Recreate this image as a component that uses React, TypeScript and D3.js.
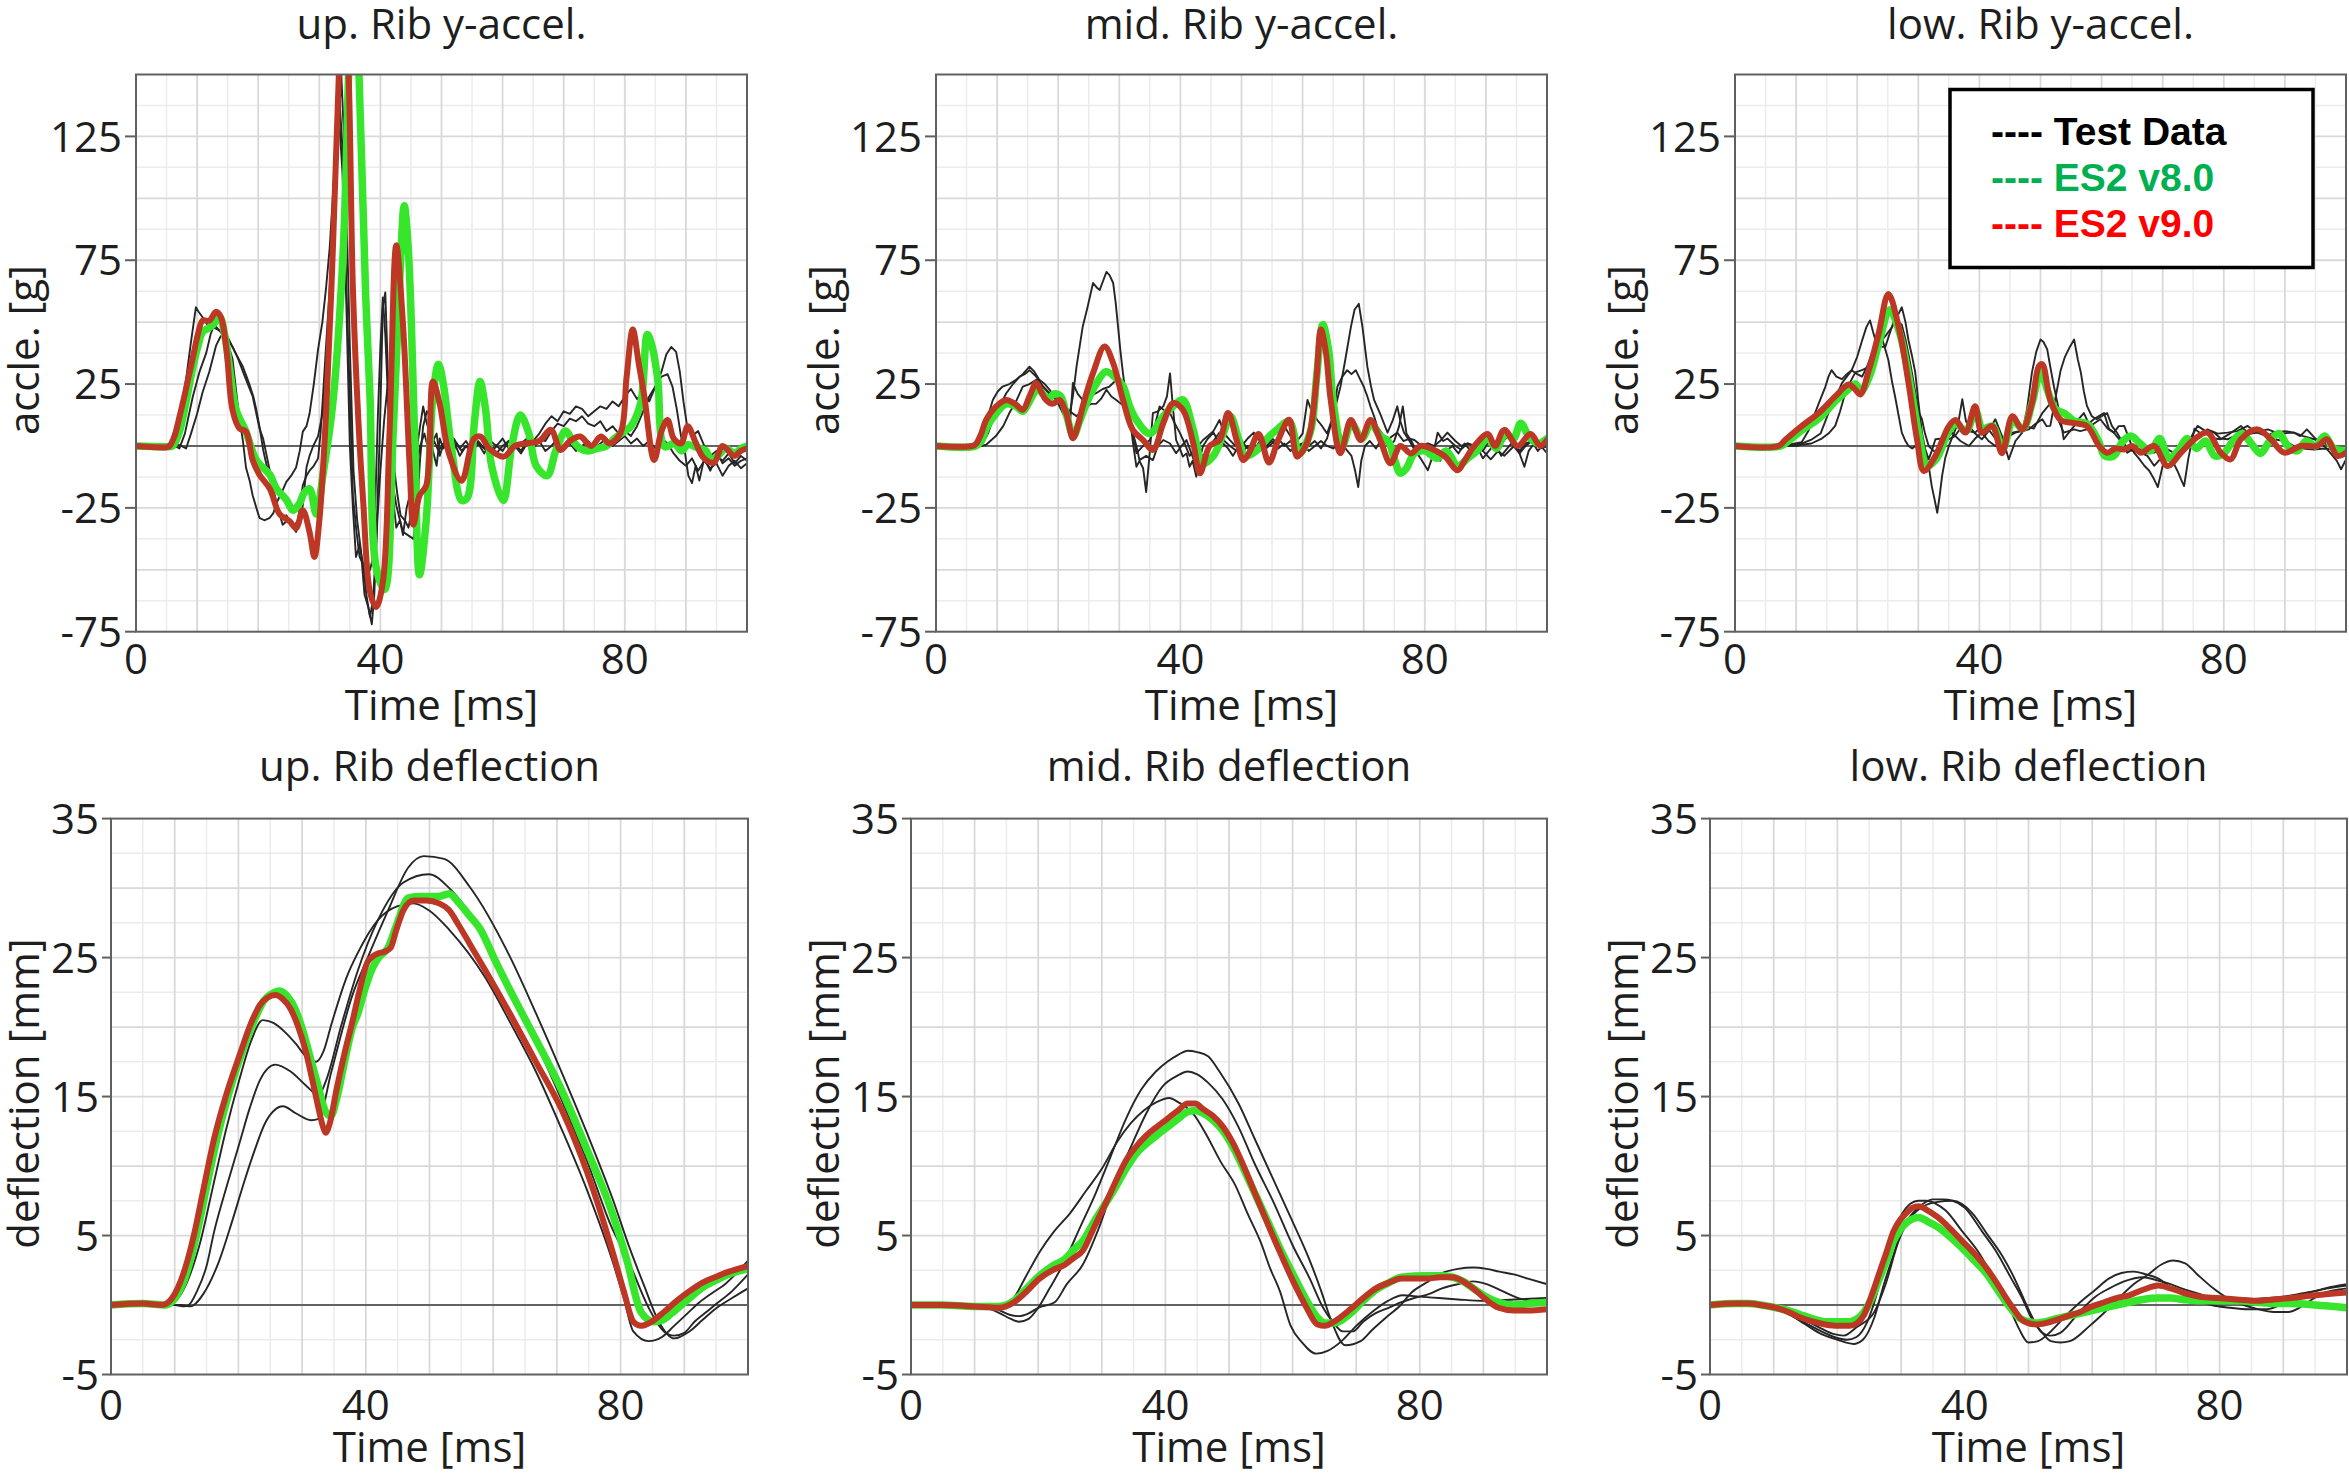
import React from "react";
import * as d3 from "d3";

type Pt = [number, number];

// ---------------- DATA ----------------
const timeTicks = [0, 40, 80];
const accTicks = [125, 75, 25, -25, -75];
const deflTicks = [35, 25, 15, 5, -5];
const legendLabels = ["---- Test Data", "---- ES2 v8.0", "---- ES2 v9.0"];

// up. Rib y-accel.
const upAccV9: Pt[] = [[0,0],[3,-0.5],[5,-0.5],[5.5,0],[6.3,4],[7.1,11.6],[8,21],[8.7,29],[9.5,38],[10.1,44.8],[10.9,50.6],[12,50.6],[13.1,54.2],[13.9,52],[14.8,39],[15.8,14.5],[16.9,7.2],[18,5.8],[19.1,-5.8],[20.2,-11.6],[21.9,-17.3],[23.5,-27.5],[25.1,-30.3],[26.2,-33.2],[27.3,-26],[28.4,-34.7],[29.2,-44.8],[30,-30.3],[31.1,13],[32.2,78],[33.2,150],[34,190],[34.8,150],[35.5,63.6],[36.4,10],[37.2,-23],[38.3,-59],[39.3,-65],[40.4,-55],[41.5,5.8],[42.6,81],[43.7,49],[44.8,-8.7],[45.4,-31.8],[46.4,-20],[47.5,-16],[48.6,26],[49.7,17],[51.2,-2.9],[53.3,-14],[55.3,2.9],[56.4,3.8],[57.8,-1],[60.2,-4.3],[62,0],[64,1.1],[66,2],[67.9,6.5],[69.5,-1.6],[71,2],[72.7,3.8],[74.5,0],[76.1,3.8],[77.5,1],[79.3,5.3],[80.3,28],[81.3,47],[82.3,33],[83.2,20],[84.8,-5.7],[86,6],[87,10.5],[88,3],[89.2,1],[90.3,8],[91.5,2],[92.9,-4.8],[94.6,-6.7],[96,0],[97.9,-4],[99,-2],[100,-1]];
const upAccV8: Pt[] = [[0,0],[5,-0.3],[6,0],[7.1,5.8],[8.2,18],[9.3,31.8],[10.1,40],[10.9,46],[11.8,47.5],[12.6,49],[13.7,52],[14.5,45],[15.3,32],[16.4,14.5],[18,5.8],[19.7,-5.8],[21.9,-11.6],[23,-17.3],[24.6,-21.7],[25.7,-26],[26.8,-23],[27.5,-19],[28.4,-17.3],[29.5,-27.5],[30.6,-11.6],[32.2,17],[33.9,78],[34.8,150],[35.6,200],[36.5,150],[37.6,60],[38.3,20],[39.3,-49],[40.7,-58],[42.1,5.8],[43.2,69],[43.9,97],[44.6,78],[45.6,5],[46.4,-52],[47.5,-30],[48.6,20],[49.5,33],[50.3,25],[51.6,-0.3],[53.3,-22],[54.2,-21],[55.4,10],[56.3,26],[57.2,15],[58.2,-8],[60.1,-22],[61.5,0],[62.9,12.5],[64.3,5],[65.5,-8],[67.3,-12],[68.7,-2],[70.3,6],[71.5,2],[72.7,-1],[74,-2],[75.5,-1],[77,0],[78.3,3],[80,6],[81,8],[82.6,17.3],[83.7,45],[84.5,40],[85.4,26.7],[86.5,-0.3],[88.1,1],[89.3,-2],[90.3,0.5],[91.7,-0.5],[93.3,-2],[94,-5.7],[95.2,-4],[96.5,-1],[98,-3],[99,-1],[100,0]];
const upAccTest1: Pt[] = [[0,0],[4,0.5],[5.5,0],[6.5,8],[7.3,15],[8.2,27],[9,42],[9.8,56],[10.3,54],[10.9,52],[11.7,49],[12.6,48],[13.4,47],[14.2,46],[15,42],[15.8,35],[16.4,22],[16.9,11.6],[17.5,2],[18,-8.7],[18.6,-14],[19.1,-20],[19.7,-25],[20.2,-29],[21,-30],[21.9,-29],[22.5,-27],[23,-23],[23.8,-19],[24.6,-14.5],[25.4,-12],[26.2,-8.7],[26.8,-2],[27.3,5.8],[27.9,8],[28.4,13],[29.1,25],[29.8,39],[30.5,50],[31.1,63.6],[31.7,80],[32.2,100],[32.8,125],[33.3,130],[33.8,110],[34.4,60],[35,0],[35.5,-25],[36,-44.8],[36.6,-40],[37.2,-48],[37.7,-60],[38.3,-69],[38.8,-62],[39.3,-40],[39.9,5],[40.4,56],[40.8,62],[41.1,40],[41.5,0],[42,-20],[42.6,-33],[43.2,-30],[43.7,-36],[44.3,-25],[44.8,-20],[45.4,-8],[45.9,-2],[46.5,8],[47,16],[47.5,10],[48.1,5],[48.6,-2],[49.2,-8],[49.7,3],[50.3,-1],[51,2],[51.8,-3],[52.5,1],[53.3,-2],[54,0],[55,-3],[56,2],[57,-1],[58,1],[59,-3],[60,0],[61,2],[62,-1],[63,1],[64,3],[65,2],[66,5],[67,9],[68,12],[69,10],[70,14],[71,13],[72,16],[73,15],[74,12],[75,14],[76,16],[77,15],[78,18],[79,16],[80,20],[81,23],[82,19],[83,21],[84,18],[85,24],[86,30],[86.8,37],[87.6,40],[88.4,38],[89,30],[89.6,18],[90.2,8],[91,4],[92,6],[93,0],[94,-4],[95,-2],[96,-7],[97,-5],[98,-8],[99,-6],[100,-5]];
const upAccTest2: Pt[] = [[0,0],[5,0],[6,0.5],[7.1,-1],[8,5],[9.3,20],[10.4,30],[11.5,37.6],[12.2,45],[12.8,49],[13.5,47],[14.2,45],[15,43],[15.8,40],[16.6,36],[17.5,32],[18.1,28],[18.6,24.6],[19.2,20],[19.7,14.5],[20.2,8],[20.8,-1.4],[21.3,-7],[21.9,-13],[22.5,-18],[23,-23],[23.5,-27],[24,-29],[24.6,-28],[25.1,-30],[25.7,-33],[26.2,-34.7],[26.8,-30],[27.3,-24],[27.9,-8.7],[28.4,-4],[29,0],[29.8,4],[30.6,14],[31.1,28],[31.7,49],[32.2,75],[32.8,107],[33.3,140],[33.8,120],[34.4,66],[35,20],[35.5,-20],[36.1,-35],[36.6,-44.8],[37.2,-48],[37.7,-52],[38.3,-50],[38.8,-45],[39.2,-20],[39.6,13],[40,40],[40.4,60],[40.8,45],[41.5,5],[42,-15],[42.6,-24],[43.2,-30],[43.7,-34.7],[44.5,-36],[45.4,-37.6],[46,-25],[46.5,-5],[47,8],[47.6,14],[48.1,12],[48.6,2],[49.2,5],[49.7,-4],[50.5,2],[51.2,-3],[52,3],[53,-1],[54,2],[55,-2],[56,1],[57,-3],[58,2],[59,0],[60,3],[61,-1],[62,1],[63,-2],[64,2],[65,0],[66,3],[67,2],[68,6],[69,9],[70,8],[71,11],[72,10],[73,12],[74,9],[75,8],[76,10],[77,6],[78,8],[79,5],[80,6],[81,4],[82,8],[83,14],[84,20],[85,24],[86,28],[87,29],[87.8,24],[88.5,15],[89.2,4],[89.8,-2],[90.4,-12],[91,-15],[91.6,-8],[92.2,-14],[93,-5],[94,-10],[95,-4],[96,-6],[97,-3],[98,-7],[99,-4],[100,-6]];
const upAccTest3: Pt[] = [[0,0],[6,0],[7,0.5],[8.2,-1],[9,5],[10,13],[10.9,21.7],[12,30],[13.1,40.5],[13.8,44],[14.5,46],[15.2,43],[15.8,40],[16.6,36],[17.5,30],[18.3,25],[19.1,20],[19.7,13],[20.2,7.2],[20.8,3],[21.3,-2.9],[21.9,-10],[22.4,-18.8],[23.2,-25],[24,-31.8],[24.8,-30],[25.7,-33],[26.5,-30],[27.3,-15.9],[27.9,-12],[28.4,-10],[29.1,-8],[29.8,-5],[30.2,5],[30.6,20],[31.1,40],[31.7,63.6],[32.4,90],[33,120],[33.6,150],[34.3,110],[35,40],[35.6,-10],[36.2,-30],[36.8,-42],[37.4,-60],[38,-65],[38.6,-72],[39,-60],[39.5,-30],[40,-10],[40.6,10],[41.2,25],[41.8,35],[42.3,-10],[42.8,-20],[43.3,-28],[44,-30],[44.6,-33],[45.2,-25],[45.8,-10],[46.5,0],[47.2,5],[48,-3],[48.8,2],[49.5,-2],[50.3,1],[51,-2],[52,2],[53,-4],[54,0],[55,-2],[56,1],[57,-1],[58,-3],[59,0],[60,-2],[61,2],[62,0],[63,-3],[64,1],[65,-1],[66,2],[67,-2],[68,0],[69,3],[70,-1],[71,1],[72,-2],[73,0],[74,2],[75,-1],[76,1],[77,3],[78,0],[79,2],[80,4],[81,1],[82,3],[83,0],[84,2],[85,-1],[86,3],[87,1],[88,-3],[89,-6],[90,-8],[91,-5],[92,-10],[93,-6],[94,-9],[95,-7],[96,-12],[97,-8],[98,-6],[99,-9],[100,-7]];

// mid. Rib y-accel.
const midAccV9: Pt[] = [[0,0],[6,0],[6.6,1],[7.4,5],[8.2,10.5],[9.8,15.9],[11.5,18.6],[13.1,16.7],[14.2,14.6],[15.3,20],[16.4,25.4],[17.2,22],[18,18.6],[19.1,17],[20.2,18.6],[21.3,13.3],[22.4,3.1],[23.2,8],[24,15.9],[25.7,29.4],[27.6,40.2],[29,33.4],[30.6,18.6],[32.2,6.5],[33.9,2.4],[35.5,-1.6],[37.2,9.2],[38.8,17.3],[40.4,14.6],[42.1,1.1],[43.2,-11],[44.8,0],[46.4,2.4],[47.8,13.3],[49.2,2.4],[50.3,-5.7],[51.2,-3],[52.8,4.8],[54.5,-6.7],[56,2.4],[57.8,10.6],[59.1,-4.3],[60.5,0],[61.3,6.5],[62.2,25],[63,47],[63.8,38],[64.6,18.6],[66.2,-2.9],[67.9,10.5],[69.5,2.4],[71.1,10.5],[72.7,2.4],[74.4,-7],[76,0],[77.7,-3],[79.3,0],[81,-1],[83.2,-4],[85.4,-9.8],[86.5,-6],[88.1,0],[90.3,4.8],[91.5,0],[93,6.5],[95.2,0],[97.3,4.8],[98.9,0],[100,2.4]];
const midAccV8: Pt[] = [[0,0],[6.5,0],[7.4,2],[8.4,8],[9.8,13],[11.5,17],[13.1,16],[14.2,14],[15.3,18],[16.6,23],[17.5,21],[18.4,19],[19.3,21],[20.4,20],[21.3,13],[22.5,4],[23.5,10],[24.6,17],[26.2,25],[27.8,30],[29.2,28],[30.6,24.3],[31.7,16],[32.8,10.5],[35,5],[37.2,12],[38.8,16],[40.4,18.6],[42.1,6.5],[43.7,-7],[45.4,-4],[47,5],[48.2,12],[49.5,3],[50.6,-4],[52.4,-2],[54.2,3],[56,7],[57.8,10],[59.5,-3],[61.3,6],[62.3,28],[63.3,49],[64.3,38],[65,18],[66.5,0],[68,9],[69.7,3],[71.2,9],[72.7,4],[74,2],[75,-5],[76,-11],[77,-9],[78.3,-3],[80,-2],[82,-5],[83.5,-2],[85.4,-8],[87,-5],[88.5,-2],[90.3,3],[91.7,-1],[93.2,5],[94.5,3],[95.7,9.2],[97,4],[98.5,1],[100,3]];
const midAccTest1: Pt[] = [[0,0],[6,0],[7,1],[7.7,5.4],[8.5,12],[9.3,18.6],[10.1,22],[10.9,24],[12,25],[13.1,26.7],[14.2,29],[15.3,32],[16.1,30],[16.9,26.7],[17.8,25],[18.6,22.7],[19.4,20],[20.2,18.6],[21,16],[21.9,13.3],[22.4,20],[23,32],[23.5,40],[24,48],[24.8,56],[25.7,65.8],[26.3,64],[26.8,63],[27.4,67],[27.9,70.3],[28.4,69],[29,65.8],[29.4,58],[29.8,48],[30.2,38],[30.6,29.3],[31.1,20],[31.7,12],[32.2,2],[32.8,-8.4],[33.3,-6],[33.9,-9],[34.4,-18.6],[34.9,-5],[35.5,13.3],[36.3,14],[37.2,16],[37.8,20],[38.3,29.3],[38.8,15],[39.3,2.4],[39.9,-1],[40.4,-4.3],[41,-3],[41.5,-8.4],[42,-6],[42.6,-12.4],[43.2,-5],[43.7,0],[44.5,3],[45.4,5.4],[46.2,2],[47,1],[47.8,-1],[48.6,-4],[49.3,-1],[50,0],[51,3],[52,5.4],[53,2],[54.2,0],[55,3],[56,1],[57,8],[58,4],[59.1,2],[60,5],[60.8,18.6],[61.5,14],[62.4,10.5],[63.2,8],[64,5],[65,12],[66.2,24],[67,35],[67.9,48],[68.5,55],[69.2,57.4],[69.8,48],[70.6,32],[71.2,24],[71.7,18.6],[72.7,13],[73.9,5.4],[74.7,10],[75.5,16],[76,10],[76.6,5.4],[77.5,2],[78.3,-1.4],[79.3,-5],[80.5,-9.8],[81.3,-4],[82.1,5.4],[83,2],[83.7,3],[85,0],[85.9,-1.4],[87,1],[88.1,0],[89.5,-2],[90.5,2],[91.4,-1.4],[92.5,1],[93.6,4],[94.5,0],[95.5,-3],[96.3,-8.4],[97,-2],[98,1.4],[99,-1],[100,0]];
const midAccTest2: Pt[] = [[0,0],[6.8,0],[7.5,0.5],[8.5,5],[9.3,10.5],[10.4,16],[11.5,21.3],[12.6,25],[13.7,28],[14.5,29],[15.3,30.6],[16.4,28],[17.5,24],[18.6,21],[19.7,18.6],[20.8,13],[21.9,8],[22.4,25.4],[23.2,21],[24,18.6],[25.1,20],[26.2,21.3],[27.3,23],[28.4,24],[29.5,26.7],[30.3,24],[31.1,18.6],[31.7,12],[32.2,5.4],[32.8,0],[33.3,-5.7],[34.4,-4],[35.5,-5.7],[36.3,0],[37.2,2.4],[38.3,1],[39.3,-2.9],[40.2,0],[41,2.4],[41.8,-3],[42.6,-8.4],[43.5,-4],[44.3,-2.9],[45.4,2],[46.4,5.4],[47.2,2],[48.1,0],[49,-1.6],[50,-3],[51,0],[52,-2],[53,2],[54,-1],[55,1],[56,3],[57,0],[58,2],[59,-1],[60,1],[61,0],[62,2],[63,-1],[64,3],[65,12],[65.7,24],[66.5,28],[67.3,30.6],[68,29],[68.7,30.6],[69.4,27],[70,24],[70.6,20],[71.1,16],[71.7,12],[72.2,8],[73,5],[73.9,2.4],[74.7,4],[75.5,5.4],[76.5,2],[77.5,3],[78.3,2.4],[79.5,0],[80.5,1],[81.5,0],[82.5,2],[83.7,5.4],[85,2],[86,0],[87,1],[88.1,0],[89.5,-2],[90.8,-5.4],[92,-2],[93,-4],[94.6,0],[95.5,-2],[96.5,1],[98,2.4],[99,0],[100,-2.9]];
const midAccTest3: Pt[] = [[0,0],[7.5,0],[8.2,0.5],[9.8,4],[11,8],[12,13.3],[13.1,18],[14.2,24],[15.3,25],[16.4,26.7],[17.5,24],[18.6,21.3],[19.7,19],[20.8,17],[21.9,14],[23,12],[23.8,14],[24.6,16],[25.4,17],[26.2,17],[27,19],[27.9,22.7],[28.7,20],[29.5,18.6],[30.3,17],[31.1,16],[32,8],[32.8,-2.9],[33.9,0],[35,2.4],[35.8,8],[36.6,16],[37.5,14],[38.3,13.3],[39.1,9],[39.9,5.4],[40.7,1],[41.5,-4],[42.6,-1],[43.7,2.4],[44.5,4],[45.4,6],[46.4,10.5],[47.2,5],[48.1,2.4],[49,0],[50,2],[51,-1],[52,1],[53,-2],[54,0],[55,2],[56,-1],[57,1],[58,-2],[59,0],[60,1],[61,-2],[62,0],[63,2],[64,0],[65,-1],[66,1],[67,-1],[68,-4],[68.6,-10],[69.1,-16.6],[69.6,-6],[70.2,0],[71,2],[72,-1],[73,3],[74,0],[75,2],[75.8,8],[76.4,16],[77,5],[77.8,2],[78.6,-2],[79.5,0],[80.5,-4],[81.5,-1],[82.5,-6],[83.5,-2],[84.5,0],[85.5,-3],[86.5,1],[87.5,-2],[88.5,0],[89.5,-5],[90.5,-2],[91.5,1],[92.5,-4],[93.5,-1],[94.5,2],[95.5,-3],[96.5,0],[97.5,2],[98.5,-2],[99.5,1],[100,-1]];

// low. Rib y-accel.
const lowAccV9: Pt[] = [[0,0],[7.1,0],[8.2,2.4],[10.9,8],[13.7,13.3],[16.4,20],[18.6,24.8],[19.6,23],[20.5,20.8],[21.9,30.6],[23.5,45.3],[25.1,61.4],[26.8,48],[28.4,25.4],[29.8,2.4],[30.9,-10.1],[32.8,-4],[35,8],[36.1,10.5],[37.7,5.4],[39.3,16],[40.4,5.4],[42.1,8],[43.7,-2.9],[45.4,12],[47,6.7],[48.6,17.3],[49.7,32],[50.3,33],[51.6,18.6],[53.3,10.5],[55.5,9.2],[57.6,8],[59.6,0],[60.9,-2.7],[62.3,-1],[63.7,-1.4],[65,0],[66.4,-2.7],[68.6,0],[70.8,-8.1],[73,-2.7],[75.2,2.7],[77.3,5.4],[79.5,-2.7],[81.1,-5.4],[82.8,2.7],[85.5,6.7],[87.7,2.7],[89.9,-2.7],[92.6,0],[95.3,0],[96.9,2.7],[98.6,-4],[100,-2.7]];
const lowAccV8: Pt[] = [[0,0],[7.5,0],[8.7,2],[11,6.5],[13.7,11],[16.4,18],[18.6,23],[19.7,25],[20.6,22],[22,28],[23.6,42],[25.3,55],[26.9,46],[28.6,26],[30,6],[31.5,-8],[33,-5],[35,6],[36.2,9],[37.8,6],[39.4,14],[40.5,7],[42.2,8],[43.8,-1],[45.5,10],[47.1,7],[48.7,18],[50,30],[51.2,22],[52.4,15],[54,13],[55.6,10],[57.6,9],[59.5,2],[60.5,-4],[62,-4],[63.5,2],[64.8,4],[66.3,1],[68,-2],[69.5,3],[71,-5],[72.5,-2],[74,3],[75.5,-1],[77,2],[78.5,-4],[80,-3],[81.5,2],[83,5],[84.5,1],[86,-3],[87.5,2],[89,5],[90.5,0],[92,-2],[93.5,2],[95,0],[96.5,4],[98,-1],[100,-2]];
const lowAccTest1: Pt[] = [[0,0],[8,0],[8.7,0.5],[9.8,1],[10.9,1.5],[12,6],[13.1,13.3],[14,19],[14.8,24],[15.3,28],[15.8,30.6],[16.6,28],[17.5,27],[18.3,29],[19.1,30.6],[20,36],[20.8,42.6],[21.5,48],[22.1,50.7],[22.6,46],[23,42.6],[23.5,44],[24,44],[24.6,39],[25.1,34.7],[25.7,26],[26.2,20],[26.8,12],[27.3,5.4],[27.9,2],[28.4,0],[29,-1],[29.5,0],[30.3,-1],[31.1,-2.7],[31.7,-8],[32.2,-16.2],[32.7,-22],[33.1,-27],[33.5,-20],[33.9,-12],[34.4,-5],[35,0],[35.8,5],[36.6,10],[37.2,18.9],[37.8,10],[38.3,8.1],[39.3,5],[40.4,2.7],[41.5,6],[42.6,10.8],[43.7,4],[44.8,-5.4],[45.9,2],[47,5.4],[47.8,15],[48.6,29.7],[49.3,38],[50,43],[50.5,42],[51.1,39],[51.6,32],[52.2,24],[52.8,17],[53.3,10.5],[53.8,2.7],[54.5,5],[55.5,8],[56.3,11],[57.1,13.3],[57.9,9],[58.7,10.8],[59.5,12],[60.4,13.3],[61.2,7],[62,5.4],[62.8,8],[63.7,8.1],[64.5,3],[65.3,-2.7],[66.1,-5],[67,-8],[67.8,-10],[68.5,-13],[69.2,-16.6],[70,-8],[70.8,-2.7],[71.6,-6],[72.4,-10],[73,-13.5],[73.5,-16.2],[74.2,-5],[75.2,7],[76.2,5],[77.3,5.4],[78.4,3],[79.5,2.7],[81,5],[82.8,8.1],[84,5],[85.5,5.4],[87,4],[88.2,5.4],[90,6],[91.5,5.4],[92.5,4],[93.6,6.7],[95,3],[96.4,0],[97.5,-3],[98.5,-6],[99.2,-9.4],[100,-5.4]];
const lowAccTest2: Pt[] = [[0,0],[9,0],[9.8,0.5],[11,1],[12.6,2.7],[14,5],[15.3,13.3],[16.4,19],[17.5,25.4],[18.3,28],[19.1,30.6],[20,29],[20.8,28],[21.6,32],[22.4,37.3],[23.2,40],[24,42.6],[24.8,45],[25.7,48],[26.5,52],[27.3,56],[27.9,50],[28.4,42.6],[29,36],[29.5,29.7],[30,18],[30.6,5.4],[31.1,-1],[31.7,-5.4],[32.2,-2],[32.8,2.7],[33.9,3],[35,2.7],[36,4],[37.2,8.1],[38.2,6],[39.3,5.4],[40.4,8],[41.5,6.7],[42.6,3],[43.7,0],[44.8,4],[45.9,5.4],[47,6],[48.1,6.7],[49.2,9],[50.3,10.8],[51,8],[51.6,8.1],[52.5,20],[53.3,30.6],[54,36],[54.8,40],[55.5,43],[56.1,35],[56.6,29.7],[57.1,22],[57.6,16.2],[58.4,12],[59.2,10.8],[60,12],[60.9,13.3],[61.7,8],[62.5,5.4],[63.3,2],[64,0],[65,-2],[66.4,-2.7],[67.5,-4],[68.6,-8],[69.7,-5],[70.8,-5.4],[72,-4],[73,-2.7],[74.3,2],[75.7,8.1],[77,6],[78.4,5.4],[79.5,3],[80.6,2.7],[81.7,4],[82.8,5.4],[84.5,5],[86,6],[87.2,6.7],[89,5],[91.5,5.4],[93,4],[94.8,2.7],[96.5,1],[98.1,0],[99,-2],[100,-3]];
const lowAccTest3: Pt[] = [[0,0],[10,0],[10.9,0.5],[12.5,1],[14.2,3],[15.3,5],[16.4,8.1],[17.2,14],[18,21],[18.9,26],[19.7,29.7],[20.8,30.6],[21.9,32],[22.7,37],[23.5,41.3],[24.1,40],[24.6,40],[25.4,46],[26.2,52],[26.8,50],[27.3,49],[27.9,43],[28.4,37],[29,29],[29.5,21.6],[30,14],[30.6,10.8],[31.1,5],[31.7,0],[32.5,-2],[33.3,-2.7],[34.4,2],[35.5,5.4],[36.9,2],[38.3,0],[39.3,3],[40.4,5.4],[41.5,2],[42.6,0],[44,3],[45.4,5.4],[46.5,6],[47.5,8.1],[48.9,7],[50.3,13.3],[51.2,16],[52.2,18.9],[53,10],[53.8,5.4],[54.6,6],[55.5,6.7],[56.5,6],[57.6,6.7],[58.7,9],[59.8,10.8],[61,7],[62,5.4],[63.1,2],[64.2,-2.7],[65.3,-1],[66.4,-1.4],[67.5,-3],[68.6,-2.7],[69.7,-1],[70.8,-1.4],[72,-3],[73,-2.7],[74,0],[75.2,2.7],[76.2,4],[77.3,6.7],[79,5],[80.6,5.4],[82.2,6],[83.9,8.1],[85,6],[86.5,5],[88.2,2.7],[90,2],[91.5,0],[93,-1],[94.8,-1.4],[96.5,-1],[98.1,-1.4],[99,-2.5],[100,-2]];

// up. Rib deflection
const upDeflV9: Pt[] = [[0,0],[5,0.1],[8,0],[9,0.2],[10,0.8],[11,1.8],[12,3.2],[13,5],[14.5,8.3],[16.2,12],[18,15],[20.2,18],[22,20.3],[23.4,21.6],[24.5,22.1],[25.8,22.3],[27,22],[28.2,21.3],[29.4,20],[30.6,18.2],[31.6,16.2],[32.6,14.1],[33.3,12.8],[33.7,12.4],[34.3,13],[35.4,15.5],[36.6,18],[37.9,20.4],[39,22.6],[40.3,24.7],[41.9,25.3],[42.8,25.4],[43.9,25.7],[44.8,27],[45.9,28.4],[47.5,29.1],[49.5,29.1],[51.5,28.9],[53.1,28.4],[54.5,27.4],[56.3,26],[59.5,23.5],[62.7,20.9],[66.7,17.5],[70.7,14.1],[74.7,9.6],[78.7,3.9],[80.5,1],[82,-1.2],[83.2,-1.5],[84.5,-1.3],[86.8,-0.5],[88.8,0.3],[90.8,1],[92.8,1.6],[94.8,2],[97,2.4],[100,2.8]];
const upDeflV8: Pt[] = [[0,0],[5,0.1],[8.5,0],[9.5,0.2],[10.5,0.8],[11.5,1.8],[12.5,3.3],[13.5,5.2],[15,8.5],[16.8,12.3],[18.6,15.4],[20.8,18.5],[22.6,20.6],[24,21.9],[25.3,22.4],[26.5,22.6],[27.7,22.2],[29,21.2],[30.2,19.6],[31.4,17.6],[32.6,15.6],[33.6,14],[34.5,13.6],[35.4,14.8],[36.7,17.6],[37.9,20],[38.7,20.9],[39.9,22.8],[41,24.2],[42,25],[43.5,25.7],[44.8,27.3],[46.7,29.3],[48.7,29.4],[51.5,29.4],[53.1,29.6],[54.5,29],[56.3,28],[57.9,27.1],[60.3,24.8],[62.7,22.6],[66.7,19.1],[70.7,15.5],[74.7,11.2],[78.7,6.6],[81,3.2],[83.2,-0.5],[85.2,-1.2],[86.5,-1.1],[88,-0.6],[90.8,0.5],[93,1.3],[95.5,1.9],[97.5,2.3],[100,2.6]];
const upDeflTest1: Pt[] = [[0,0],[8,0],[9.5,0.1],[11,0.8],[12.5,2.3],[14,4.5],[16,8.5],[18,12.5],[20.2,16.3],[22,19],[23.8,20.5],[25.5,20.3],[27.4,19.6],[29,18.8],[30.6,17.9],[32.2,17.5],[33.4,18.3],[34.6,20.2],[37,23.6],[38.7,25.3],[41.9,27.7],[45,28.7],[47.5,28.9],[49.9,28.4],[53.1,27],[58.7,23.6],[62.7,20.3],[66.7,16.8],[70.7,12.7],[74.7,8.3],[78.7,3.2],[80.5,0.5],[82,-1.9],[84.4,-2.6],[86.5,-2.3],[88.4,-1.5],[90.5,-0.6],[92.4,0.2],[94.5,0.9],[96.4,1.5],[98.2,2.3],[100,3.2]];
const upDeflTest2: Pt[] = [[0,0],[10,0],[11.5,-0.1],[12.2,0],[13.5,1],[15,2.8],[16.2,5.3],[18.2,8.6],[20.2,11.7],[21.8,14.2],[23.4,16.2],[25.8,17.3],[28.2,16.8],[30.6,15.8],[32.6,15.1],[33.8,16.2],[36.2,20.2],[38.7,24],[41.9,27.7],[45.9,30.4],[49.9,31],[53.1,30],[58.7,26.4],[62.7,22.7],[66.7,18.9],[70.7,14.8],[74.7,10.4],[78.5,5.7],[81.2,3.2],[84.4,-0.2],[86.8,-1.9],[88.4,-2.2],[90,-2],[91.6,-1.2],[93.2,-0.6],[94.8,0],[97.5,1],[100,2.2]];
const upDeflTest3: Pt[] = [[0,0],[11,0],[12.5,-0.1],[13,0],[14.5,0.8],[17,3.2],[19,6],[21,9],[22.6,11.2],[24.2,13.1],[25.6,14],[27,14.3],[29,13.8],[31.4,13.3],[32.6,13.4],[34.6,16.8],[37.9,22.3],[40.3,25],[43.5,28.4],[46.7,31.5],[49.1,32.3],[52.3,32.1],[56.3,30.1],[62.7,25],[66.7,21],[70.7,16.8],[74.7,12.4],[78.7,7.7],[81.5,4],[83.6,1.5],[86,-1.2],[88.4,-2.4],[90.8,-1.9],[92.8,-1.1],[94.8,-0.3],[97.5,0.5],[100,1.2]];

// mid. Rib deflection
const midDeflV9: Pt[] = [[0,0],[5,0],[10,-0.1],[13.8,-0.2],[16.2,0.2],[18,0.9],[20.2,1.9],[22.2,2.5],[24.2,2.9],[25.6,3.4],[27,3.9],[28.8,5.6],[30.6,7.3],[32.2,8.9],[33.8,10.4],[35.4,11.4],[37,12.2],[38.6,12.8],[40.3,13.4],[42,14],[43.5,14.5],[44.7,14.5],[45.9,14.1],[47.5,13.6],[49.1,12.8],[50.7,11.6],[52.3,10],[54.3,7.8],[56.3,5.6],[58.3,3.5],[60.3,1.5],[62.1,-0.1],[63.9,-1.4],[65.1,-1.5],[66.5,-1.2],[69.1,-0.3],[71.1,0.5],[73.1,1.2],[75.1,1.6],[77.1,1.9],[81.2,1.9],[83.2,2],[85.2,2],[86.8,1.7],[88.4,1.2],[90.4,0.4],[92.4,-0.2],[94.8,-0.4],[97,-0.4],[100,-0.3]];
const midDeflV8: Pt[] = [[0,0],[5,0],[10,-0.1],[13.8,-0.1],[16.2,0.3],[18,1.1],[20.2,2.1],[22.2,2.8],[24.2,3.3],[25.6,4],[27,4.6],[28.8,6],[30.6,7.3],[32.2,8.5],[33.8,9.8],[35.4,10.9],[37,11.6],[38.6,12.2],[40.3,12.8],[42,13.4],[43.5,13.9],[44.7,14],[45.9,13.8],[47.5,13.3],[49.1,12.5],[50.7,11.3],[52.3,9.8],[54.3,7.8],[56.3,5.8],[58.3,3.8],[60.3,2],[62.1,0.4],[63.9,-0.9],[65.1,-1.3],[66.5,-1.3],[69.1,-0.6],[71.1,0.3],[73.1,1.1],[75.1,1.6],[77.1,2],[81.2,2.1],[83.2,2.1],[85.2,2],[86.8,1.7],[88.4,1.2],[90.4,0.6],[92.4,0.2],[94.8,0],[97,0.1],[100,0.2]];
const midDeflTest1: Pt[] = [[0,0],[10,0],[12,-0.1],[14,-0.3],[15,-0.2],[16.2,0.5],[18,2],[20.2,3.8],[22.5,5.3],[25,6.6],[27.5,8.2],[30,9.8],[32.5,11.8],[34.6,13.1],[36.6,14],[38.6,14.6],[40.6,14.9],[42,14.6],[44.3,13.8],[46.5,12.2],[48.7,10.3],[50.9,8.7],[53,6.5],[55,4.5],[56.5,2.6],[58,1],[59.7,-1.5],[61.5,-2.7],[63.7,-3.5],[65.5,-3.3],[67.7,-2.6],[70,-1.5],[72.5,-0.5],[75,0.3],[77.3,0.7],[80,0.6],[83,0.5],[86,0.4],[90,0.3],[95,0.4],[100,0.5]];
const midDeflTest2: Pt[] = [[0,0],[10,0],[12,-0.2],[14,-0.6],[15.7,-1],[17,-1.2],[18.5,-1],[20,-0.2],[21.8,1.2],[24,3],[26.6,5.6],[29,8],[31.4,10.7],[33.8,13.4],[36.2,15.5],[38.5,16.8],[40.3,17.5],[42,18],[43.5,18.3],[45,18.2],[46.7,17.9],[48.5,16.8],[51.5,14.5],[54,12],[57,9],[60,6],[62.7,3.2],[64.5,1],[65.9,-0.9],[68.3,-2.9],[70.7,-2.6],[72.5,-1.8],[74.7,-0.9],[77,0],[78.7,0.9],[81,1.6],[83.5,2.3],[86,2.6],[88.4,2.7],[90.5,2.6],[92.5,2.4],[94.8,2.2],[97,1.9],[100,1.5]];
const midDeflTest3: Pt[] = [[0,0],[10,0],[12,-0.1],[14,-0.4],[15.5,-0.7],[17,-0.8],[18.5,-0.6],[20,-0.2],[22.6,0.2],[24.5,1.5],[27,2.9],[29.5,5.5],[32,8.7],[34.5,11.3],[37,13.8],[39.5,15.7],[41.9,16.5],[43.5,16.8],[45,16.6],[46.7,16],[49,14.8],[51.5,12.8],[54,10.2],[57.1,7.3],[60,4.3],[62.7,1.9],[64.8,-0.2],[66.3,-1.2],[67.9,-1.9],[69.5,-1.9],[71.1,-1.2],[73,-0.6],[75.1,-0.2],[77.1,0.2],[79.1,0.5],[81.5,0.8],[83.5,1.2],[86,1.5],[88.4,1.7],[90.5,1.5],[93,1],[95.5,0.5],[97.5,0.3],[100,0.5]];

// low. Rib deflection
const lowDeflV9: Pt[] = [[0,0],[4,0.1],[6,0.1],[8,0],[10.4,-0.2],[12.3,-0.5],[14.2,-0.9],[16.2,-1.2],[18.1,-1.4],[20,-1.5],[21.9,-1.5],[23.1,-1.3],[24.2,-0.7],[25.3,0.6],[26.5,2.2],[27.7,3.8],[28.8,5.3],[29.8,6.1],[30.8,6.6],[31.8,7],[32.7,7.1],[34.2,6.8],[35.8,6.3],[37.7,5.5],[39.6,4.6],[41.5,3.7],[43.5,2.6],[45,1.6],[46.5,0.5],[47.7,-0.3],[48.8,-1],[50,-1.3],[51.2,-1.4],[52.7,-1.3],[54.2,-1.1],[56.1,-0.8],[58.1,-0.5],[60,-0.1],[61.9,0.2],[63.8,0.5],[65.8,0.7],[68,1.1],[70.4,1.4],[72.3,1.2],[74.2,0.9],[76.9,0.6],[79.6,0.5],[82.7,0.4],[85.8,0.3],[88.5,0.4],[91.2,0.5],[95,0.7],[100,0.9]];
const lowDeflV8: Pt[] = [[0,0],[4,0.1],[6,0.1],[8,0],[10.4,-0.2],[12.3,-0.4],[14.2,-0.7],[16.2,-1],[18.1,-1.2],[20,-1.2],[21.9,-1.2],[23.1,-1],[24.2,-0.5],[25.3,0.4],[26.5,1.8],[27.7,3.2],[28.8,4.6],[29.8,5.4],[30.8,5.9],[31.8,6.2],[32.7,6.3],[34.2,6],[35.8,5.6],[37.7,4.9],[39.6,4.1],[41.5,3.2],[43.5,2.2],[45,1.2],[46.5,0.2],[47.7,-0.5],[48.8,-1],[50,-1.2],[51.2,-1.3],[52.7,-1.2],[54.2,-1],[56.1,-0.8],[58.1,-0.6],[60,-0.4],[61.9,-0.2],[63.8,0],[65.8,0.2],[68,0.4],[70.4,0.5],[72.3,0.5],[74.2,0.4],[76.9,0.3],[79.6,0.3],[82.7,0.3],[85.8,0.2],[88.5,0.1],[91.2,0.1],[95,0],[100,-0.2]];
const lowDeflTest1: Pt[] = [[0,0],[5,0.1],[8,0],[10,-0.2],[12.5,-0.7],[15,-1.3],[17.5,-1.9],[19.5,-2.3],[21.5,-2.5],[23,-2.3],[24.6,-1.3],[26,0.5],[27.3,2.8],[28.8,5.3],[30.2,6.6],[31.5,7.3],[32.7,7.5],[34,7.5],[35.4,7.3],[37,6.8],[39.6,5.3],[42,3.9],[44.2,2.2],[45.9,0.8],[47.3,-0.5],[48.5,-1.7],[50,-2.7],[51.5,-2.6],[53.5,-1.9],[56,-0.7],[58.1,0.2],[60.5,1.1],[62.6,1.9],[64.6,2.3],[66.5,2.4],[68.5,2.2],[70.4,1.9],[72.5,1.2],[75.6,0.5],[78.7,0],[81.7,-0.2],[84.5,-0.3],[87.5,-0.3],[89.5,0],[91.5,0.5],[94,0.9],[97,1.2],[100,1.4]];
const lowDeflTest2: Pt[] = [[0,0],[5,0.1],[8,0],[10,-0.2],[12.5,-0.7],[15,-1.4],[17.5,-2.1],[20,-2.5],[22.5,-2.8],[24,-2.5],[25.8,-0.9],[27.3,1.5],[28.8,3.6],[30.2,5.5],[31.8,6.6],[33.5,7.3],[35,7.6],[36.6,7.6],[38.1,7.5],[40,7],[42.7,5.3],[45,3.8],[47.3,1.9],[49,0.5],[50.4,-0.9],[52,-1.9],[53.5,-2.6],[55,-2.7],[56.5,-2.6],[59.6,-1.5],[62,-0.5],[64.2,0.5],[66.5,1.5],[68.8,2.2],[70.8,2.9],[72.7,3.2],[74.6,3],[76.5,2.2],[79,1.2],[81.2,0.5],[83.8,0],[86,-0.3],[88.5,-0.5],[90.8,-0.5],[92.5,-0.2],[94.5,0.4],[96.5,0.9],[98.5,1.1],[100,1.2]];
const lowDeflTest3: Pt[] = [[0,0],[5,0.1],[8,0],[10,-0.2],[12.5,-0.6],[15,-1.1],[17.5,-1.7],[19.5,-2.1],[21,-2.2],[23,-1.6],[25.8,-0.5],[27.5,1.4],[29.6,4.6],[31.5,6.3],[33.5,7.1],[35.5,7.4],[38.1,7.5],[41.2,6.6],[43.5,5.1],[45.8,3.6],[47.7,2],[49.2,0.5],[50.4,-0.7],[51.9,-1.9],[53.5,-2.2],[55,-2],[58,-0.5],[60.5,0.6],[62.7,1.2],[65,1.7],[68,2],[70,1.8],[72.3,1.5],[74.6,1.1],[77.5,0.7],[80,0.3],[82.7,0.2],[85,0.4],[87.5,0.5],[90,0.6],[92.5,0.8],[95,1],[97.5,1.3],[100,1.5]];

// ---------------- LAYOUT / STYLE ----------------
const W = 2349;
const H = 1473;
const FONT = "'Open Sans', 'Noto Sans', sans-serif";
const TEXT = "#1e1e1e";
const C_TEST = "#262626";
const C_V8 = "#36e52c";
const C_V9 = "#bd3725";
const LEG_COLORS = ["#000000", "#00b050", "#ff0000"];

interface PanelSpec {
  id: string;
  title: string;
  yLabel: string;
  x0: number; x1: number; y0: number; y1: number;
  yDomain: [number, number];
  yTicks: number[];
  majorStep: number;
  kind: "acc" | "defl";
  tests: Pt[][];
  v8: Pt[];
  v9: Pt[];
}

const topY0 = 74.5, topY1 = 631.7;
const botY0 = 818.6, botY1 = 1374.5;

const panels: PanelSpec[] = [
  { id: "p1", title: "up. Rib y-accel.", yLabel: "accle. [g]", x0: 136, x1: 747, y0: topY0, y1: topY1, yDomain: [-75, 150], yTicks: accTicks, majorStep: 25, kind: "acc", tests: [upAccTest1, upAccTest2, upAccTest3], v8: upAccV8, v9: upAccV9 },
  { id: "p2", title: "mid. Rib y-accel.", yLabel: "accle. [g]", x0: 936, x1: 1547, y0: topY0, y1: topY1, yDomain: [-75, 150], yTicks: accTicks, majorStep: 25, kind: "acc", tests: [midAccTest1, midAccTest2, midAccTest3], v8: midAccV8, v9: midAccV9 },
  { id: "p3", title: "low. Rib y-accel.", yLabel: "accle. [g]", x0: 1735, x1: 2346, y0: topY0, y1: topY1, yDomain: [-75, 150], yTicks: accTicks, majorStep: 25, kind: "acc", tests: [lowAccTest1, lowAccTest2, lowAccTest3], v8: lowAccV8, v9: lowAccV9 },
  { id: "p4", title: "up. Rib deflection", yLabel: "deflection [mm]", x0: 111, x1: 748, y0: botY0, y1: botY1, yDomain: [-5, 35], yTicks: deflTicks, majorStep: 5, kind: "defl", tests: [upDeflTest1, upDeflTest2, upDeflTest3], v8: upDeflV8, v9: upDeflV9 },
  { id: "p5", title: "mid. Rib deflection", yLabel: "deflection [mm]", x0: 911, x1: 1547, y0: botY0, y1: botY1, yDomain: [-5, 35], yTicks: deflTicks, majorStep: 5, kind: "defl", tests: [midDeflTest1, midDeflTest2, midDeflTest3], v8: midDeflV8, v9: midDeflV9 },
  { id: "p6", title: "low. Rib deflection", yLabel: "deflection [mm]", x0: 1710, x1: 2347, y0: botY0, y1: botY1, yDomain: [-5, 35], yTicks: deflTicks, majorStep: 5, kind: "defl", tests: [lowDeflTest1, lowDeflTest2, lowDeflTest3], v8: lowDeflV8, v9: lowDeflV9 },
];

function Panel({ p }: { p: PanelSpec }) {
  const x = d3.scaleLinear().domain([0, 100]).range([p.x0, p.x1]);
  const y = d3.scaleLinear().domain(p.yDomain).range([p.y1, p.y0]);
  const isTop = p.kind === "acc";

  const testLine = d3.line<Pt>().x(d => x(d[0])).y(d => y(d[1]))
    .curve(isTop ? d3.curveLinear : d3.curveMonotoneX);
  const simLine = d3.line<Pt>().x(d => x(d[0])).y(d => y(d[1]))
    .curve(isTop ? d3.curveCatmullRom.alpha(0.5) : d3.curveMonotoneX);

  const minorStep = p.majorStep / 2;
  const hMinor: number[] = [];
  const hMajor: number[] = [];
  for (let v = p.yDomain[0] + minorStep; v < p.yDomain[1] - 1e-6; v += minorStep) {
    const isMajor = Math.abs(Math.round(v / p.majorStep) * p.majorStep - v) < 1e-6;
    (isMajor ? hMajor : hMinor).push(v);
  }
  const vMinor: number[] = [];
  const vMajor: number[] = [];
  for (let t = 5; t < 100; t += 5) (t % 10 === 0 ? vMajor : vMinor).push(t);

  const cx = (p.x0 + p.x1) / 2;
  const cy = (p.y0 + p.y1) / 2;
  const titleY = isTop ? 39 : 781;
  const xLabelY = p.y1 + (isTop ? 42 : 45);
  const xTitleY = p.y1 + (isTop ? 88 : 87);
  const yTitleX = p.x0 - (isTop ? 97 : 72);
  const tickLen = isTop ? 11 : 9;
  const tickGap = isTop ? 14 : 12;

  return (
    <g>
      <defs>
        <clipPath id={`clip-${p.id}`}>
          <rect x={p.x0} y={p.y0} width={p.x1 - p.x0} height={p.y1 - p.y0} />
        </clipPath>
      </defs>
      <rect x={p.x0} y={p.y0} width={p.x1 - p.x0} height={p.y1 - p.y0} fill="#ffffff" />
      {hMinor.map(v => <line key={`hm${v}`} x1={p.x0} x2={p.x1} y1={y(v)} y2={y(v)} stroke="#ececec" strokeWidth={1.5} />)}
      {vMinor.map(t => <line key={`vm${t}`} x1={x(t)} x2={x(t)} y1={p.y0} y2={p.y1} stroke="#ececec" strokeWidth={1.5} />)}
      {hMajor.map(v => <line key={`hM${v}`} x1={p.x0} x2={p.x1} y1={y(v)} y2={y(v)} stroke="#d9d9d9" strokeWidth={1.8} />)}
      {vMajor.map(t => <line key={`vM${t}`} x1={x(t)} x2={x(t)} y1={p.y0} y2={p.y1} stroke="#d9d9d9" strokeWidth={1.8} />)}
      <line x1={p.x0} x2={p.x1} y1={y(0)} y2={y(0)} stroke="#3a3a3a" strokeWidth={1.6} />
      <g clipPath={`url(#clip-${p.id})`}>
        {p.tests.map((s, i) => (
          <path key={`t${i}`} d={testLine(s) ?? ""} fill="none" stroke={C_TEST} strokeWidth={1.9} strokeLinejoin="round" />
        ))}
        <path d={simLine(p.v8) ?? ""} fill="none" stroke={C_V8} strokeWidth={7.5} strokeLinejoin="round" strokeLinecap="round" />
        <path d={simLine(p.v9) ?? ""} fill="none" stroke={C_V9} strokeWidth={6} strokeLinejoin="round" strokeLinecap="round" />
      </g>
      <rect x={p.x0} y={p.y0} width={p.x1 - p.x0} height={p.y1 - p.y0} fill="none" stroke="#606060" strokeWidth={2} />
      {p.yTicks.map(v => (
        <g key={`yt${v}`}>
          <line x1={p.x0 - tickLen} x2={p.x0} y1={y(v)} y2={y(v)} stroke="#606060" strokeWidth={2} />
          <text x={p.x0 - tickGap} y={y(v)} dy="0.36em" textAnchor="end" fontFamily={FONT} fontSize={42} fill={TEXT}>{v}</text>
        </g>
      ))}
      {timeTicks.map(t => (
        <text key={`xt${t}`} x={x(t)} y={xLabelY} textAnchor="middle" fontFamily={FONT} fontSize={42} fill={TEXT}>{t}</text>
      ))}
      <text x={cx} y={xTitleY} textAnchor="middle" fontFamily={FONT} fontSize={42} fill={TEXT}>Time [ms]</text>
      <text x={cx} y={titleY} textAnchor="middle" fontFamily={FONT} fontSize={42} fill={TEXT}>{p.title}</text>
      <text transform={`translate(${yTitleX},${cy - 3}) rotate(-90)`} textAnchor="middle" fontFamily={FONT} fontSize={42} fill={TEXT}>{p.yLabel}</text>
    </g>
  );
}

function Legend() {
  const lx = 1950, ly = 89.5, lw = 363, lh = 178;
  const baselines = [145, 191, 236.5];
  return (
    <g>
      <rect x={lx} y={ly} width={lw} height={lh} fill="#ffffff" stroke="#000000" strokeWidth={3.5} />
      {legendLabels.map((s, i) => (
        <text key={s} x={1991} y={baselines[i]} fontFamily="'Liberation Sans', Arial, sans-serif" fontWeight="bold" fontSize={39} fill={LEG_COLORS[i]}>{s}</text>
      ))}
    </g>
  );
}

export default function App() {
  return (
    <div style={{ position: "absolute", left: 0, top: 0, width: W, height: H, background: "#ffffff" }}>
      <svg width={W} height={H} viewBox={`0 0 ${W} ${H}`} style={{ display: "block" }}>
        <rect x={0} y={0} width={W} height={H} fill="#ffffff" />
        {panels.map(p => <Panel key={p.id} p={p} />)}
        <Legend />
      </svg>
    </div>
  );
}
